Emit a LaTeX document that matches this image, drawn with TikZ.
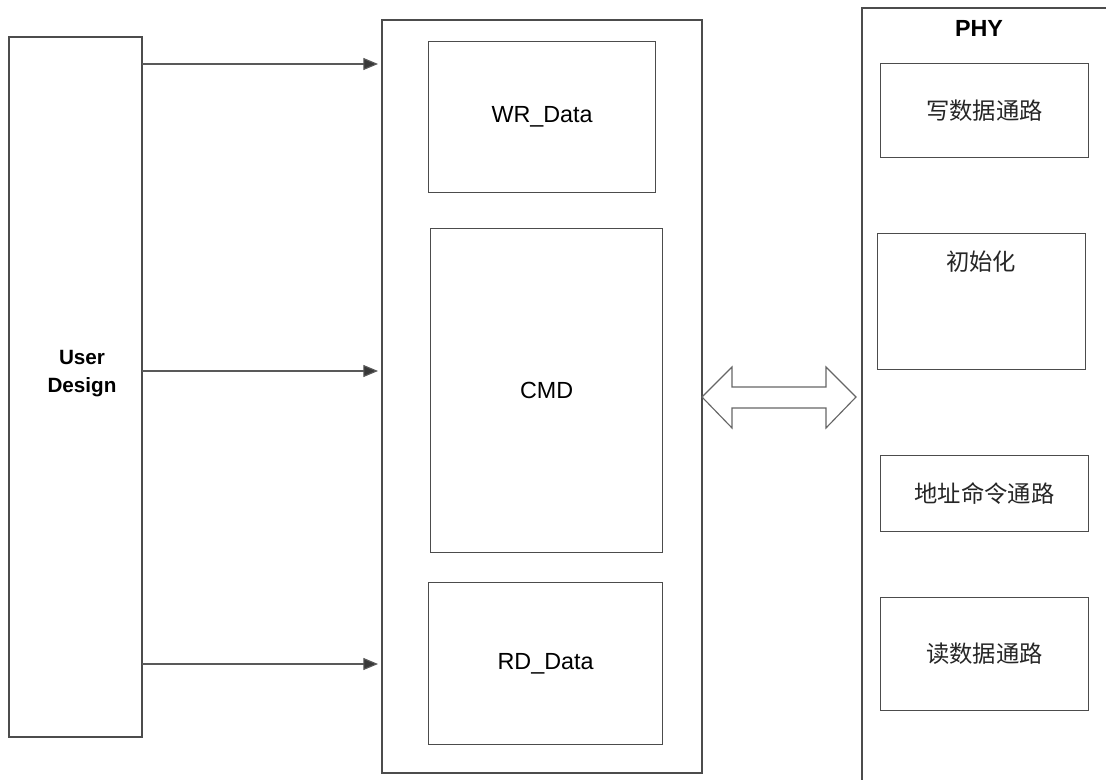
\documentclass[tikz,border=0pt]{standalone}
\usepackage{fontspec}
\setmainfont{Liberation Sans}
\newfontfamily\cjk{Noto Sans CJK SC}
\usetikzlibrary{arrows.meta,calc}
\tikzset{
  ln/.style={draw=black!70, line width=0.85pt},
  txt/.style={font=\fontsize{17.5pt}{21pt}\selectfont, text=black},
  cjktxt/.style={font=\cjk\fontsize{17.5pt}{21pt}\selectfont, text=black!85},
  arr/.style={draw=black!65, line width=0.85pt, -{Triangle[length=11pt,width=9pt,fill=black!78]}, shorten >=3pt}
}
\begin{document}
\begin{tikzpicture}[x=0.75pt,y=-0.75pt]
\useasboundingbox (0,0) rectangle (1106,780);
% User Design
\draw[ln] (9,37) rectangle (142,737);
\node[txt, font=\bfseries\fontsize{15.5pt}{21pt}\selectfont, align=center] (ud) at (82,374) {User\\Design};
\coordinate (udr) at (142,387);
% middle box
\draw[ln] (382,20) rectangle (702,773);
\coordinate (midl) at (382,397);
\node[ln, minimum width=170.25pt, minimum height=113.25pt, inner sep=0pt, anchor=north west, txt] (wr) at (428,41) {WR\_Data};
\node[ln, minimum width=174pt, minimum height=243pt, inner sep=0pt, anchor=north west, txt] (cmd) at (430,228) {CMD};
\node[ln, minimum width=175.5pt, minimum height=121.5pt, inner sep=0pt, anchor=north west, txt] (rd) at (428,582) {RD\_Data};
% arrows
\draw[arr] (udr |- 0,64) -- (midl |- 0,64);
\draw[arr] (udr |- 0,371) -- (midl |- 0,371);
\draw[arr] (udr |- 0,664) -- (midl |- 0,664);
% PHY frame
\draw[ln] (862,780) -- (862,8) -- (1106,8);
\node[txt, font=\bfseries\fontsize{17.5pt}{21pt}\selectfont] (phy) at (979,28) {PHY};
\node[ln, minimum width=156pt, minimum height=70.5pt, inner sep=0pt, anchor=north west, cjktxt] (w) at (880,63) {写数据通路};
\node[ln, minimum width=156pt, minimum height=102pt, inner sep=0pt, anchor=north west] (init) at (877,233) {};
\node[cjktxt] (initt) at (981,262) {初始化};
\node[ln, minimum width=156pt, minimum height=57pt, inner sep=0pt, anchor=north west, cjktxt] (addr) at (880,455) {地址命令通路};
\node[ln, minimum width=156pt, minimum height=84.75pt, inner sep=0pt, anchor=north west, cjktxt] (r) at (880,597) {读数据通路};
% double arrow
\draw[ln, draw=black!60, fill=white, line join=miter] (702,397) -- (732,367) -- (732,387) -- (826,387) -- (826,367) -- (856,397) -- (826,428) -- (826,408) -- (732,408) -- (732,428) -- cycle;
\end{tikzpicture}
\end{document}
